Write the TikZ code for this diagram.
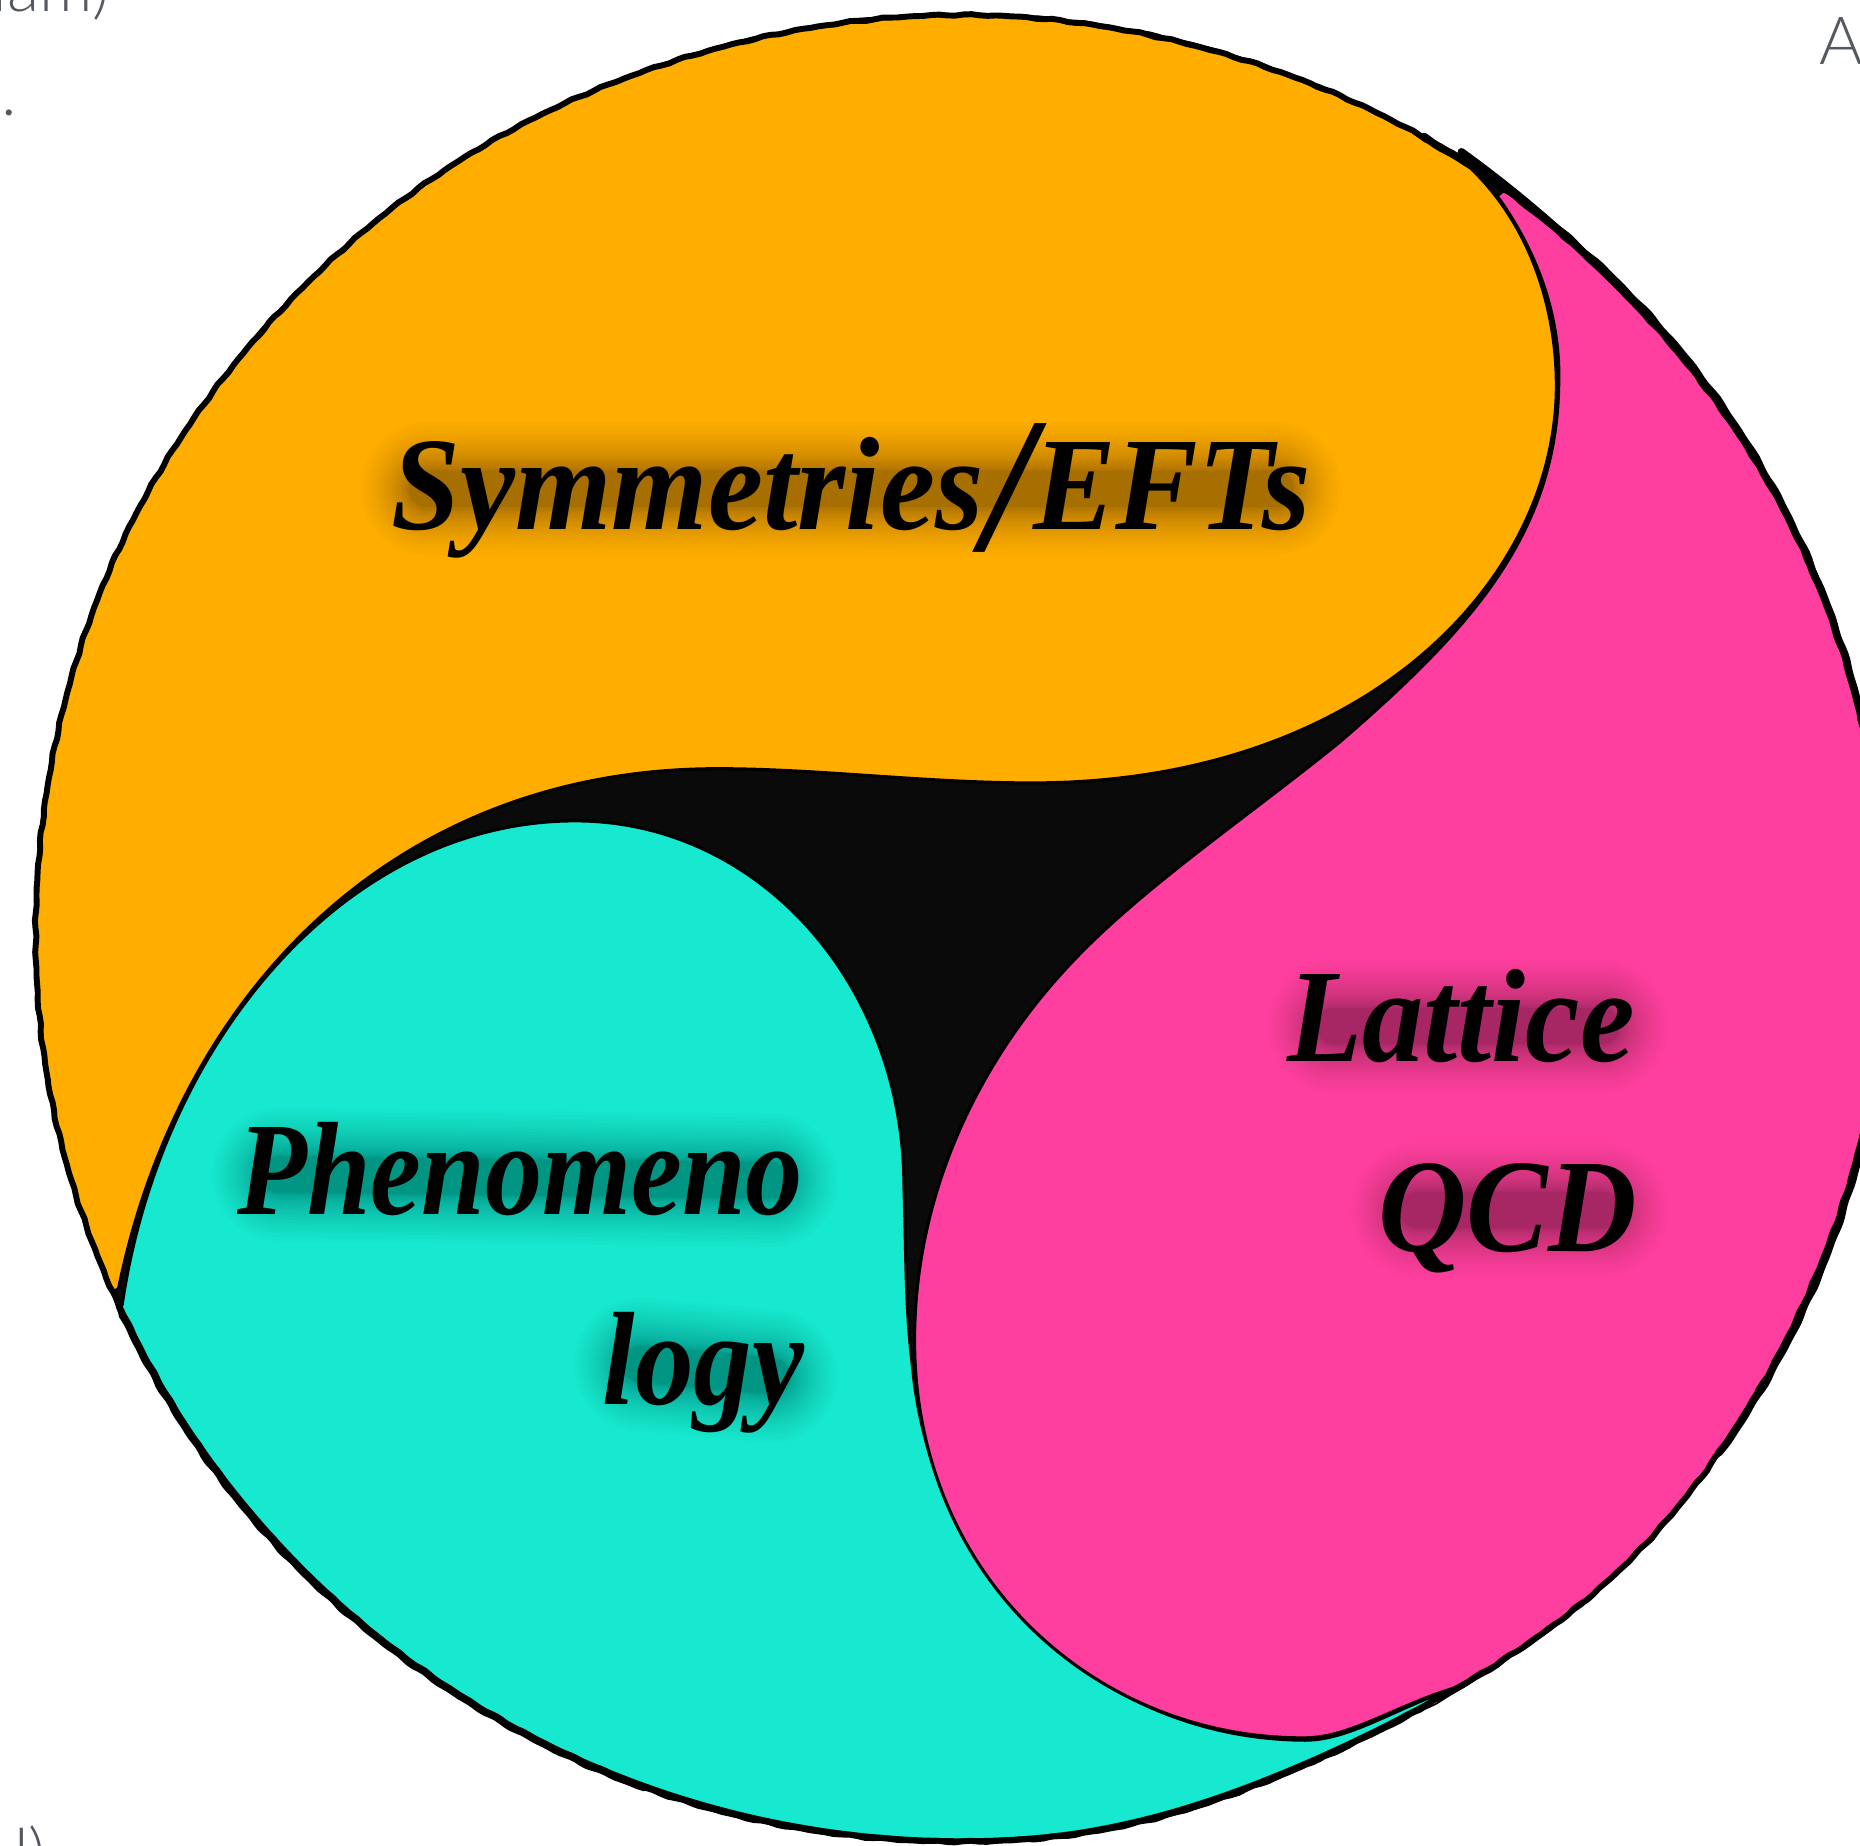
\documentclass[tikz,border=0pt]{standalone}
\usepackage{fontspec}
\setmainfont{Liberation Serif}
\newfontfamily\thinfont{Lato Light}
\definecolor{orangeR}{HTML}{FFAE00}
\definecolor{tealR}{HTML}{17E9D0}
\definecolor{pinkR}{HTML}{FF3F9F}
\definecolor{inkR}{HTML}{0A0A0A}
\definecolor{greyR}{HTML}{555A60}
\tikzset{
  x=1pt,y=-1pt,
  region/.style={draw=black,line width=2.6pt,line join=round},
  rim/.style={draw=black,line width=5pt,line join=round},
  rimthin/.style={draw=black,line width=1.4pt,line join=round},
  rimheavy/.style={draw=black,line width=6.4pt,line join=round,line cap=round},
  label/.style={inner sep=0pt,outer sep=0pt,anchor=base west,text=black},
  scrap/.style={inner sep=0pt,outer sep=0pt,text=greyR,font=\thinfont\fontsize{56}{60}\selectfont},
  halo/.style={line cap=round,opacity=.014,draw=black},
}
\newcommand{\lbl}[2]{\resizebox{#1pt}{\height}{\fontsize{112}{120}\selectfont\bfseries\itshape #2}}
% radius wobble: short ripples that stay within TeX's number range
\newcommand{\wobA}{(.4*sin(200*mod(\x,9))+.35*sin(140*mod(\x,18))+.5*sin(11*\x))}
\newcommand{\wobB}{(.35*sin(160*mod(\x,9))+.4*sin(100*mod(\x,18))+.5*sin(7*\x))}
% the outline sits a little inside the ellipse at lower right
\newcommand{\corr}{(10*(abs(\x-424)<22.5)*cos(4*(\x-424))*cos(4*(\x-424)))}
\begin{document}
\begin{tikzpicture}
\useasboundingbox (0,0) rectangle (1568,1556);
\clip (0,0) rectangle (1568,1556);
% scraps of neighbouring text
\node[scrap,anchor=base east] (scrapA) at (92,10) {iam)};
\node[scrap,anchor=base west] (scrapB) at (1,97) {.};
\node[scrap,anchor=base west] (scrapC) at (1534,54) {A};
\node[scrap,anchor=base west] (scrapD) at (12,1582) {l)};
% black disc
\fill[inkR] plot[domain=156:516,samples=180,smooth cycle] ({810+(780-\corr)*cos(\x)},{783+(770-\corr)*sin(\x)});
% orange
\path[fill=orangeR,region] plot[domain=156.5:303.5,samples=70,smooth] ({810+780*cos(\x)},{783+770*sin(\x)})
  -- (1240,142) .. controls (1290,190) and (1312,260) .. (1312,325)
  .. controls (1312,490) and (1150,660) .. (870,660)
  .. controls (780,660) and (690,648) .. (605,648)
  .. controls (330,648) and (150,840) .. (100,1086) -- cycle;
% teal
\path[fill=tealR,region] plot[domain=416.6:515.7,samples=80,smooth] ({810+(778-\corr)*cos(\x)},{783+(768-\corr)*sin(\x)})
  -- (103,1100) .. controls (135,880) and (290,692) .. (485,692)
  .. controls (640,692) and (762,830) .. (762,1000)
  .. controls (764,1060) and (763,1100) .. (769,1150)
  .. controls (785,1330) and (925,1466) .. (1100,1467)
  .. controls (1140,1467) and (1180,1437) .. (1236,1420) -- cycle;
% pink
\path[fill=pinkR,region] plot[domain=306:416.6,samples=70,smooth] ({810+(780-\corr)*cos(\x)},{783+(770-\corr)*sin(\x)})
  -- (1236,1420) .. controls (1180,1435) and (1140,1465) .. (1100,1465)
  .. controls (925,1466) and (771,1330) .. (771,1130)
  .. controls (771,1000) and (830,890) .. (900,815)
  .. controls (960,750) and (1050,690) .. (1130,625)
  .. controls (1240,530) and (1312,450) .. (1314,325)
  .. controls (1316,270) and (1298,215) .. (1262,165) -- cycle;
% rough rim
\draw[rim] plot[domain=156:516,samples=720] ({810+(780+\wobA-\corr)*cos(\x)},{783+(770+\wobA-\corr)*sin(\x)}) -- cycle;
\draw[rimthin] plot[domain=156:516,samples=720] ({811+(781+\wobB-\corr)*cos(\x)},{783+(771+\wobB-\corr)*sin(\x)}) -- cycle;
\draw[rimheavy] plot[domain=300:395,samples=240] ({810+(781+\wobB)*cos(\x)},{783+(771+\wobB)*sin(\x)});
\draw[rimheavy] plot[domain=470:515,samples=120] ({810+(780+\wobA)*cos(\x)},{783+(770+\wobA)*sin(\x)});
\coordinate (kink) at (1232,128);
\coordinate (kinkend) at (1390,268);
\draw[rimheavy] (kink) .. controls (1290,170) and (1340,215) .. (kinkend);
% halos
\foreach \k in {1,...,24}{
  \pgfmathsetmacro{\w}{30+\k*\k/7}
  \draw[halo,line width=\w pt] (360,412) -- (1075,412);
  \draw[halo,line width=\w pt] (1125,865) -- (1350,865);
  \draw[halo,line width=\w pt] (1195,1020) -- (1350,1020);
  \draw[halo,line width=\w pt] (235,990) -- (650,995);
  \draw[halo,line width=\w pt] (540,1150) -- (650,1160);
}
% labels
\node[label] (sym) at (330,446) {\lbl{775}{Symmetries\raisebox{-18pt}{\scalebox{1.45}{/}}EFTs}};
\node[label] (lat) at (1085,895) {\lbl{293}{Lattice}};
\node[label] (qcd) at (1162,1055) {\lbl{218}{QCD}};
\node[label] (phe) at (200,1024) {\lbl{477}{Phenomeno}};
\node[label] (log) at (508,1184) {\lbl{170}{logy}};
\end{tikzpicture}
\end{document}
